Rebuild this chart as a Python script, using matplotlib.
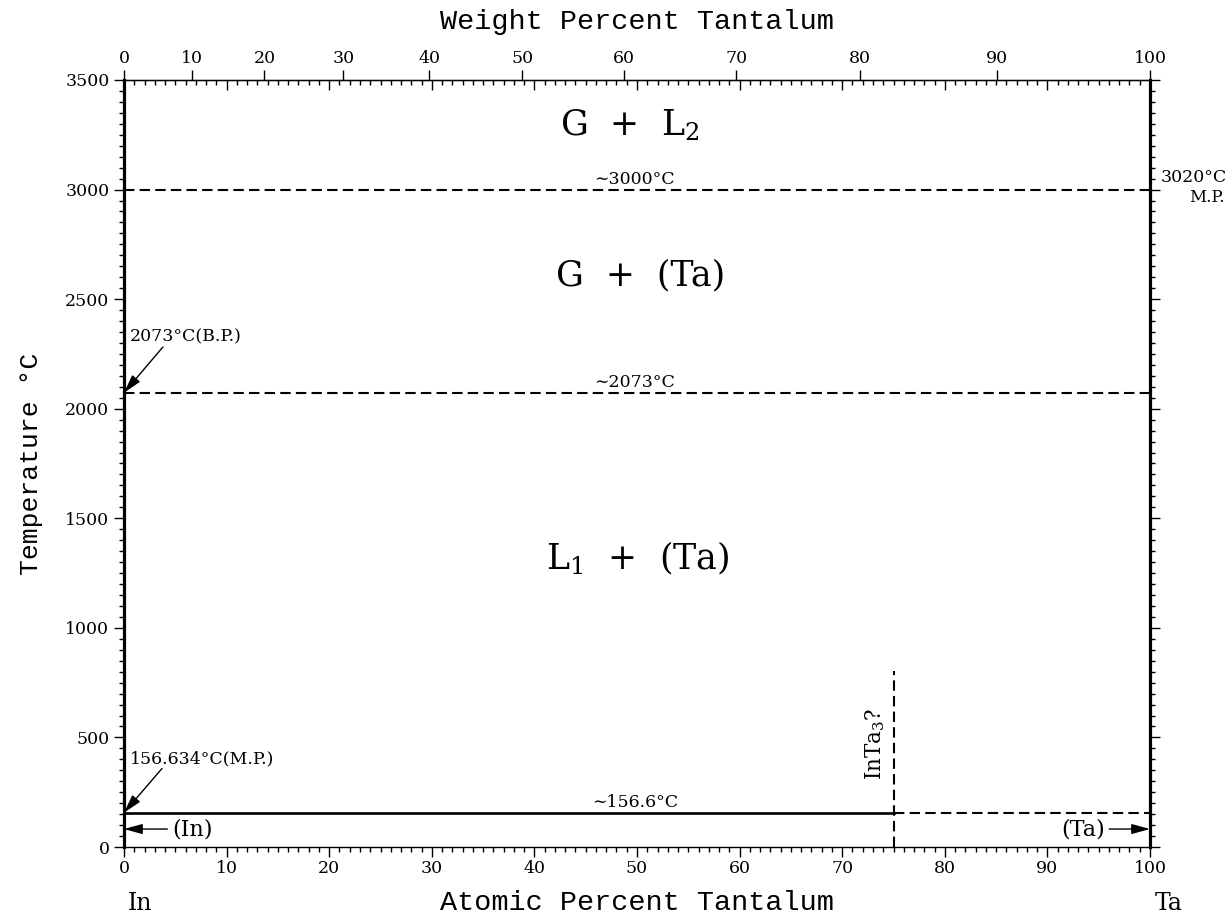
"""In-Ta phase diagram (atomic / weight percent tantalum)."""
import matplotlib
matplotlib.use("Agg")
import matplotlib.pyplot as plt
import numpy as np
from matplotlib.ticker import MultipleLocator, NullLocator

M_IN = 114.818
M_TA = 180.948

# isotherms spanning the whole diagram (dashed)
ISOTHERMS = [3000, 2073]
ISO_LABELS = ["∼3000°C", "∼2073°C"]
EUTECTIC_T = 156.6
EUTECTIC_SPLIT = 75          # solid up to here, dashed beyond
INTA3_X = 75
INTA3_TOP = 805

IN_MP = 156.634
IN_BP = 2073
TA_MP = 3020

# phase-field labels: (x at%, T, text)
FIELDS = [
    (49.3, 3295, r"G  +  L$_2$"),
    (50.4, 2606, "G  +  (Ta)"),
    (50.1, 1319, r"L$_1$  +  (Ta)"),
]

plt.rcParams["mathtext.fontset"] = "dejavuserif"
SERIF = "DejaVu Serif"
MONO = "Liberation Mono"
SMALL = 12.5


def at2wt(a):
    a = np.asarray(a, float)
    return 100 * a * M_TA / (a * M_TA + (100 - a) * M_IN)


def wt2at(w):
    w = np.asarray(w, float)
    return 100 * (w / M_TA) / (w / M_TA + (100 - w) / M_IN)


fig = plt.figure(figsize=(12.32, 9.17), dpi=100)
ax = fig.add_axes([124 / 1232, 1 - 847 / 917, 1026 / 1232, 767 / 917])
ax.set_xlim(0, 100)
ax.set_ylim(0, 3500)

dash = (0, (5, 2.5))
for t, lab in zip(ISOTHERMS, ISO_LABELS):
    ax.plot([0, 100], [t, t], color="k", lw=1.5, ls=dash)
    ax.text(49.8, t + 8, lab, ha="center", va="bottom", fontsize=SMALL, family=SERIF)

ax.plot([0, EUTECTIC_SPLIT], [EUTECTIC_T, EUTECTIC_T], color="k", lw=1.9)
ax.plot([EUTECTIC_SPLIT, 100], [EUTECTIC_T, EUTECTIC_T], color="k", lw=1.5, ls=dash)
ax.text(49.8, EUTECTIC_T + 8, "∼156.6°C", ha="center", va="bottom", fontsize=SMALL, family=SERIF)

ax.plot([INTA3_X, INTA3_X], [0, INTA3_TOP], color="k", lw=1.5, ls=dash)
ax.text(INTA3_X - 0.6, 306, r"InTa$_3$?", rotation=90, ha="right", va="bottom",
        fontsize=15.5, family=SERIF)

for x, t, s in FIELDS:
    ax.text(x, t, s, ha="center", va="center", fontsize=25, family=SERIF)

arrow = dict(arrowstyle="-|>,head_length=0.8,head_width=0.22", color="k", lw=1,
             mutation_scale=14, shrinkA=0, shrinkB=0)
ax.text(0.6, 2327, f"{IN_BP}°C(B.P.)", ha="left", va="center", fontsize=SMALL, family=SERIF)
ax.annotate("", xy=(0, IN_BP), xytext=(3.8, 2282), arrowprops=arrow)
ax.text(0.6, 402, f"{IN_MP}°C(M.P.)", ha="left", va="center", fontsize=SMALL, family=SERIF)
ax.annotate("", xy=(0, IN_MP), xytext=(3.7, 358), arrowprops=arrow)
ax.annotate("(In)", xy=(0, 82), xytext=(4.7, 82), ha="left", va="center",
            fontsize=16, family=SERIF, arrowprops=dict(arrow, relpos=(-0.12, 0.5)))
ax.annotate("(Ta)", xy=(100, 82), xytext=(95.6, 82), ha="right", va="center",
            fontsize=16, family=SERIF, arrowprops=dict(arrow, relpos=(1.1, 0.5)))

ax.text(101.0, 3053, f"{TA_MP}°C", ha="left", va="center", fontsize=SMALL,
        family=SERIF, clip_on=False)
ax.text(107.3, 2966, "M.P.", ha="right", va="center", fontsize=12,
        family=SERIF, clip_on=False)

ax.text(1.6, -260, "In", ha="center", va="center", fontsize=17, family=SERIF, clip_on=False)
ax.text(101.8, -260, "Ta", ha="center", va="center", fontsize=17, family=SERIF, clip_on=False)

# ticks
ax.xaxis.set_major_locator(MultipleLocator(10))
ax.xaxis.set_minor_locator(MultipleLocator(1))
ax.yaxis.set_major_locator(MultipleLocator(500))
ax.yaxis.set_minor_locator(MultipleLocator(50))
ax.tick_params(axis="x", which="both", direction="out", top=False, bottom=True)
ax.tick_params(axis="y", which="both", direction="out", left=True, right=True)
ax.tick_params(which="major", length=7.5, width=1, labelsize=SMALL)
ax.tick_params(which="minor", length=3.6, width=1)
ax.tick_params(axis="x", pad=2)
ax.tick_params(axis="y", pad=3)
for lab in ax.get_xticklabels() + ax.get_yticklabels():
    lab.set_family(SERIF)

for side in ("left", "right"):
    ax.spines[side].set_linewidth(2.3)
for side in ("top", "bottom"):
    ax.spines[side].set_linewidth(1)

# atomic percent ticks on top, pointing inward
top_at = ax.secondary_xaxis("top")
top_at.xaxis.set_major_locator(MultipleLocator(10))
top_at.xaxis.set_minor_locator(MultipleLocator(1))
top_at.tick_params(which="both", direction="in", labeltop=False)
top_at.tick_params(which="major", length=7.5, width=1)
top_at.tick_params(which="minor", length=3.6, width=1)

# weight percent scale on top
top_wt = ax.secondary_xaxis("top", functions=(at2wt, wt2at))
top_wt.set_xticks(range(0, 101, 10))
top_wt.xaxis.set_minor_locator(NullLocator())
top_wt.tick_params(which="major", direction="out", length=7.5, width=1, labelsize=SMALL, pad=2)
for lab in top_wt.get_xticklabels():
    lab.set_family(SERIF)
top_wt.set_xlabel("Weight Percent Tantalum", family=MONO, fontsize=20.5, labelpad=15)

ax.set_xlabel("Atomic Percent Tantalum", family=MONO, fontsize=20.5, labelpad=9)
ax.set_ylabel("Temperature °C", family=MONO, fontsize=19, labelpad=16)

fig.savefig("out.png", dpi=100)
